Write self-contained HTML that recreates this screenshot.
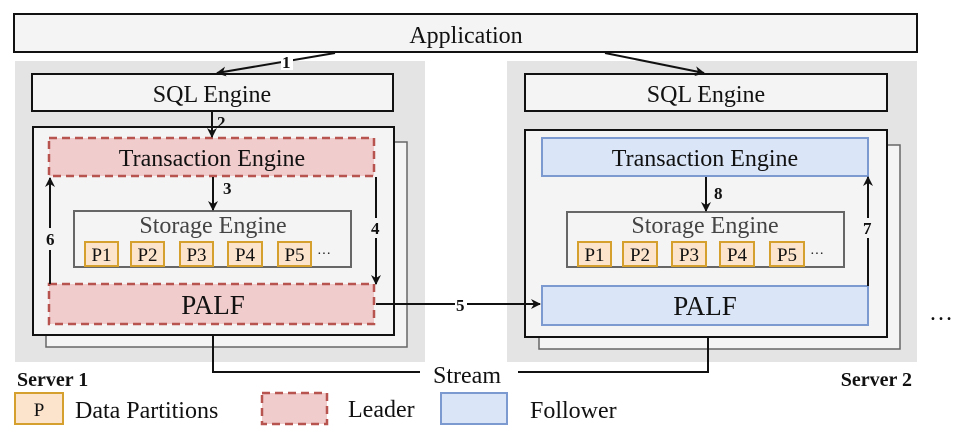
<!DOCTYPE html>
<html><head><meta charset="utf-8"><style>
body{margin:0;background:#fff}
svg{display:block}
svg text{font-family:"Liberation Serif","Times New Roman","DejaVu Serif",serif;fill:#111}
</style></head><body>
<svg width="960" height="433" viewBox="0 0 960 433" xmlns="http://www.w3.org/2000/svg" font-family="'Liberation Serif', serif">
<defs>
<marker id="a" markerWidth="10" markerHeight="10" refX="9" refY="5" orient="auto" markerUnits="userSpaceOnUse">
<path d="M0,0 L10,5 L0,10 L3,5 z" fill="#111"/></marker>
</defs>
<rect x="14" y="14" width="903" height="38" fill="#f4f4f4" stroke="#111" stroke-width="2"/>
<text x="466" y="43" font-size="24" text-anchor="middle">Application</text>

<!-- Server 1 -->
<rect x="15" y="61" width="410" height="301" fill="#e4e4e4"/>
<rect x="32" y="74" width="361" height="37" fill="#f4f4f4" stroke="#111" stroke-width="2"/>
<text x="212" y="102" font-size="24" text-anchor="middle">SQL Engine</text>
<rect x="46" y="142" width="361" height="205" fill="#f4f4f4" stroke="#666" stroke-width="1.5"/>
<rect x="33" y="127" width="361" height="208" fill="#f4f4f4" stroke="#111" stroke-width="2"/>
<rect x="49" y="138" width="325" height="38" fill="#f1cccc" stroke="#b85450" stroke-width="2.5" stroke-dasharray="8,5"/>
<text x="212" y="166" font-size="24" text-anchor="middle">Transaction Engine</text>
<rect x="74" y="211" width="277" height="56" fill="#f4f4f4" stroke="#666" stroke-width="2"/>
<text x="213" y="233" font-size="24" text-anchor="middle" style="fill:#444">Storage Engine</text>
<g font-size="19" text-anchor="middle">
<rect x="85" y="242" width="33" height="24" fill="#fbe3cc" stroke="#d6a02e" stroke-width="2"/><text x="101.5" y="261">P1</text>
<rect x="131" y="242" width="33" height="24" fill="#fbe3cc" stroke="#d6a02e" stroke-width="2"/><text x="147.5" y="261">P2</text>
<rect x="180" y="242" width="33" height="24" fill="#fbe3cc" stroke="#d6a02e" stroke-width="2"/><text x="196.5" y="261">P3</text>
<rect x="228" y="242" width="34" height="24" fill="#fbe3cc" stroke="#d6a02e" stroke-width="2"/><text x="245" y="261">P4</text>
<rect x="278" y="242" width="33" height="24" fill="#fbe3cc" stroke="#d6a02e" stroke-width="2"/><text x="294.5" y="261">P5</text>
</g>
<text x="317" y="258" font-size="14">···</text>
<rect x="49" y="284" width="325" height="40" fill="#f1cccc" stroke="#b85450" stroke-width="2.5" stroke-dasharray="8,5"/>
<text x="213" y="314" font-size="27" text-anchor="middle">PALF</text>

<!-- Server 2 -->
<rect x="507" y="61" width="410" height="301" fill="#e4e4e4"/>
<rect x="525" y="74" width="362" height="37" fill="#f4f4f4" stroke="#111" stroke-width="2"/>
<text x="706" y="102" font-size="24" text-anchor="middle">SQL Engine</text>
<rect x="539" y="145" width="361" height="204" fill="#f4f4f4" stroke="#666" stroke-width="1.5"/>
<rect x="525" y="130" width="362" height="207" fill="#f4f4f4" stroke="#111" stroke-width="2"/>
<rect x="542" y="138" width="326" height="38" fill="#dae6f8" stroke="#7d9ad0" stroke-width="2"/>
<text x="705" y="166" font-size="24" text-anchor="middle">Transaction Engine</text>
<rect x="567" y="212" width="277" height="55" fill="#f4f4f4" stroke="#666" stroke-width="2"/>
<text x="705" y="233" font-size="24" text-anchor="middle" style="fill:#444">Storage Engine</text>
<g font-size="19" text-anchor="middle">
<rect x="578" y="242" width="33" height="24" fill="#fbe3cc" stroke="#d6a02e" stroke-width="2"/><text x="594.5" y="261">P1</text>
<rect x="623" y="242" width="34" height="24" fill="#fbe3cc" stroke="#d6a02e" stroke-width="2"/><text x="640" y="261">P2</text>
<rect x="672" y="242" width="34" height="24" fill="#fbe3cc" stroke="#d6a02e" stroke-width="2"/><text x="689" y="261">P3</text>
<rect x="720" y="242" width="34" height="24" fill="#fbe3cc" stroke="#d6a02e" stroke-width="2"/><text x="737" y="261">P4</text>
<rect x="770" y="242" width="34" height="24" fill="#fbe3cc" stroke="#d6a02e" stroke-width="2"/><text x="787" y="261">P5</text>
</g>
<text x="810" y="258" font-size="14">···</text>
<rect x="542" y="286" width="326" height="39" fill="#dae6f8" stroke="#7d9ad0" stroke-width="2"/>
<text x="705" y="315" font-size="27" text-anchor="middle">PALF</text>

<!-- arrows -->
<g stroke="#111" stroke-width="2" fill="none">
<line x1="335" y1="53" x2="217" y2="73" marker-end="url(#a)"/>
<line x1="605" y1="53" x2="704" y2="73" marker-end="url(#a)"/>
<line x1="212" y1="111" x2="212" y2="137" marker-end="url(#a)"/>
<line x1="213" y1="177" x2="213" y2="210" marker-end="url(#a)"/>
<line x1="376" y1="177" x2="376" y2="284" marker-end="url(#a)"/>
<line x1="50" y1="284" x2="50" y2="178" marker-end="url(#a)"/>
<line x1="376" y1="304" x2="540" y2="304" marker-end="url(#a)"/>
<line x1="706" y1="177" x2="706" y2="211" marker-end="url(#a)"/>
<line x1="868" y1="286" x2="868" y2="177" marker-end="url(#a)"/>
<polyline points="213,335 213,372 420,372"/>
<polyline points="518,372 708,372 708,337"/>
</g>
<rect x="281" y="54" width="12" height="16" fill="#fff"/>
<rect x="455" y="296" width="12" height="16" fill="#fff"/>
<rect x="369" y="218" width="14" height="20" fill="#f4f4f4"/>
<rect x="43" y="228" width="14" height="22" fill="#f4f4f4"/>
<rect x="861" y="218" width="14" height="20" fill="#f4f4f4"/>
<g font-size="17" font-weight="bold">
<text x="282" y="68">1</text>
<text x="217" y="128">2</text>
<text x="223" y="194">3</text>
<text x="371" y="234">4</text>
<text x="456" y="311">5</text>
<text x="46" y="245">6</text>
<text x="863" y="234">7</text>
<text x="714" y="199">8</text>
</g>
<text x="467" y="383" font-size="24" text-anchor="middle">Stream</text>
<text x="17" y="386" font-size="20" font-weight="bold">Server 1</text>
<text x="912" y="386" font-size="20" font-weight="bold" text-anchor="end">Server 2</text>
<text x="929" y="320" font-size="24">…</text>

<!-- legend -->
<rect x="15" y="393" width="48" height="31" fill="#fbe3cc" stroke="#d6a02e" stroke-width="2"/>
<text x="39" y="416" font-size="19" text-anchor="middle">P</text>
<text x="75" y="418" font-size="24">Data Partitions</text>
<rect x="262" y="393" width="65" height="31" fill="#f1cccc" stroke="#b85450" stroke-width="2.5" stroke-dasharray="8,5"/>
<text x="348" y="417" font-size="24">Leader</text>
<rect x="441" y="393" width="66" height="31" fill="#dae6f8" stroke="#7d9ad0" stroke-width="2"/>
<text x="530" y="418" font-size="24">Follower</text>
</svg>
</body></html>
